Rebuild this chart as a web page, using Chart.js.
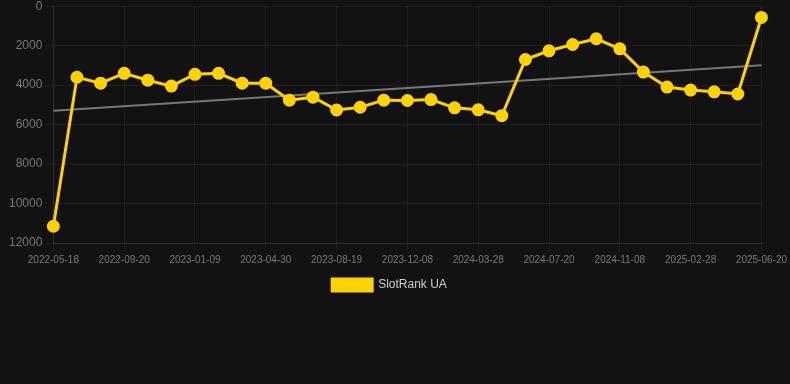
<!DOCTYPE html>
<html>
<head>
<meta charset="utf-8">
<script src="https://cdn.jsdelivr.net/npm/chart.js@4"></script>
<style>
    html, body { margin: 0; padding: 0; background: #121212; overflow: hidden; }
    #wrap { width: 790px; height: 305px; margin-top: -4px; }
</style>
</head>
<body>
<div id="wrap"><canvas id="rankChart"></canvas></div>
<script>
var dates = [
    '2022-05-18', '2022-06-28', '2022-08-09', '2022-09-20', '2022-10-27', '2022-12-03',
    '2023-01-09', '2023-02-15', '2023-03-24', '2023-04-30', '2023-06-06', '2023-07-13',
    '2023-08-19', '2023-09-25', '2023-11-01', '2023-12-08', '2024-01-14', '2024-02-20',
    '2024-03-28', '2024-05-05', '2024-06-12', '2024-07-20', '2024-08-26', '2024-10-02',
    '2024-11-08', '2024-12-15', '2025-01-21', '2025-02-28', '2025-04-06', '2025-05-13',
    '2025-06-20'
];
var rankUA = [
    11150, 3600, 3900, 3400, 3750, 4050,
    3450, 3400, 3900, 3900, 4760, 4610,
    5260, 5120, 4760, 4780, 4730, 5150,
    5250, 5550, 2700, 2260, 1940, 1650,
    2160, 3340, 4100, 4250, 4340, 4450,
    570
];
// trend line: only the two ends, the gap is bridged by spanGaps
var trend = [
    5300, null, null, null, null, null, null, null, null, null, null, null, null, null, null, null,
    null, null, null, null, null, null, null, null, null, null, null, null, null, null, 2990
];
var yTicks = [0, 2000, 4000, 6000, 8000, 10000, 12000];

var ctx = document.getElementById('rankChart').getContext('2d');
var rankChart = new Chart(ctx, {
    type: 'line',
    data: {
        labels: dates,
        datasets: [{
            label: 'SlotRank UA',
            data: rankUA,
            borderColor: '#ffd200',
            backgroundColor: '#ffd200',
            borderWidth: 3,
            pointRadius: 5,
            pointHoverRadius: 6,
            tension: 0
        }, {
            label: 'trend',
            data: trend,
            borderColor: '#777777',
            borderWidth: 2,
            pointRadius: 0,
            spanGaps: true
        }]
    },
    options: {
        responsive: true,
        maintainAspectRatio: false,
        animation: false,
        layout: { padding: { left: 6, right: 17, top: 0 } },
        scales: {
            x: {
                grid: { color: 'rgba(255,255,255,0.05)' },
                border: { color: 'rgba(255,255,255,0.08)' },
                afterBuildTicks: function (axis) {
                    // a label (and grid line) on every third date
                    axis.ticks = axis.ticks.filter(function (t, i) { return i % 3 === 0; });
                },
                ticks: {
                    color: '#777',
                    font: { size: 10 },
                    maxRotation: 0,
                    autoSkip: false
                }
            },
            y: {
                reverse: true,
                min: 0,
                max: 12000,
                grid: { color: 'rgba(255,255,255,0.05)' },
                border: { color: 'rgba(255,255,255,0.08)' },
                afterBuildTicks: function (axis) {
                    axis.ticks = yTicks.map(function (v) { return { value: v }; });
                },
                ticks: {
                    color: '#777',
                    font: { size: 12 },
                    callback: function (v) { return String(v); }
                }
            }
        },
        plugins: {
            legend: {
                position: 'bottom',
                labels: {
                    color: '#ccc',
                    font: { size: 12 },
                    filter: function (item) { return item.datasetIndex === 0; }
                }
            },
            tooltip: { enabled: true }
        }
    }
});
</script>
</body>
</html>
